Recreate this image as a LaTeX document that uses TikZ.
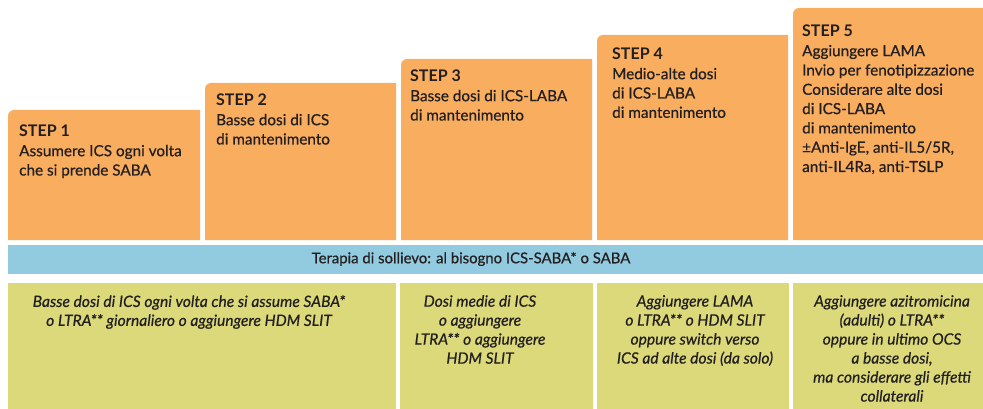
\documentclass[tikz,border=0pt]{standalone}
\usepackage{fontspec}
\setmainfont{Lato}
\newfontfamily\medfont{Lato}[FakeBold=0.6]
\definecolor{stepor}{HTML}{F8AD5F}
\definecolor{relblue}{HTML}{92CBE0}
\definecolor{addgreen}{HTML}{DCD97A}
\definecolor{ink}{HTML}{231F20}
\newcommand{\steptitle}[1]{{\fontsize{16}{19}\selectfont\normalfont\bfseries #1}}
\tikzset{
  steptext/.style={anchor=north west, inner sep=0pt, align=left, text=ink,
    font=\fontsize{15.3}{19.3}\selectfont\medfont},
  addtext/.style={anchor=north, inner sep=0pt, align=center, text=ink,
    font=\fontsize{15.6}{19}\selectfont\medfont\itshape},
  bandtext/.style={anchor=center, inner sep=0pt, text=ink,
    font=\fontsize{14.9}{16}\selectfont\medfont}
}
\newcommand{\stepbox}[3]{% left, right, top
  \fill[stepor] (#1,240) [rounded corners=6pt] -- (#1,#3) [sharp corners] -- (#2,#3) -- (#2,240) -- cycle;}
\begin{document}
\begin{tikzpicture}[x=1pt,y=-1pt]
\useasboundingbox (0,0) rectangle (983,409);
\fill[white] (0,0) rectangle (983,409);
% step boxes
\stepbox{8}{200}{110}
\stepbox{205}{396}{83}
\stepbox{401}{592}{59}
\stepbox{597}{788}{35}
\stepbox{793}{983}{8}
\node[steptext] (s1) at (19,125) {\steptitle{STEP 1}\\Assumere ICS ogni volta\\che si prende SABA};
\node[steptext] (s2) at (216,94) {\steptitle{STEP 2}\\Basse dosi di ICS\\di mantenimento};
\node[steptext] (s3) at (410,70) {\steptitle{STEP 3}\\Basse dosi di ICS-LABA\\di mantenimento};
\node[steptext] (s4) at (612,48) {\steptitle{STEP 4}\\Medio-alte dosi\\di ICS-LABA\\di mantenimento};
\node[steptext] (s5) at (802,25) {\steptitle{STEP 5}\\Aggiungere LAMA\\Invio per fenotipizzazione\\Considerare alte dosi\\di ICS-LABA\\di mantenimento\\±Anti-IgE, anti-IL5/5R,\\anti-IL4Ra, anti-TSLP};
% relief band
\fill[relblue] (8,245) rectangle (983,274);
\node[bandtext] (band) at (471,259) {Terapia di sollievo: al bisogno ICS-SABA* o SABA};
% add-on boxes
\fill[addgreen] (8,283) rectangle (396,409);
\fill[addgreen] (400,283) rectangle (593,409);
\fill[addgreen] (597,283) rectangle (789,409);
\fill[addgreen] (793,283) rectangle (983,409);
\node[addtext] (a1) at (189,295) {Basse dosi di ICS ogni volta che si assume SABA*\\o LTRA** giornaliero o aggiungere HDM SLIT};
\node[addtext] (a2) at (480,295) {Dosi medie di ICS\\o aggiungere\\LTRA** o aggiungere\\HDM SLIT};
\node[addtext] (a3) at (695,295) {Aggiungere LAMA\\o LTRA** o HDM SLIT\\oppure switch verso\\ICS ad alte dosi (da solo)};
\node[addtext] (a4) at (892,295) {Aggiungere azitromicina\\(adulti) o LTRA**\\oppure in ultimo OCS\\a basse dosi,\\ma considerare gli effetti\\collaterali};
\end{tikzpicture}
\end{document}
